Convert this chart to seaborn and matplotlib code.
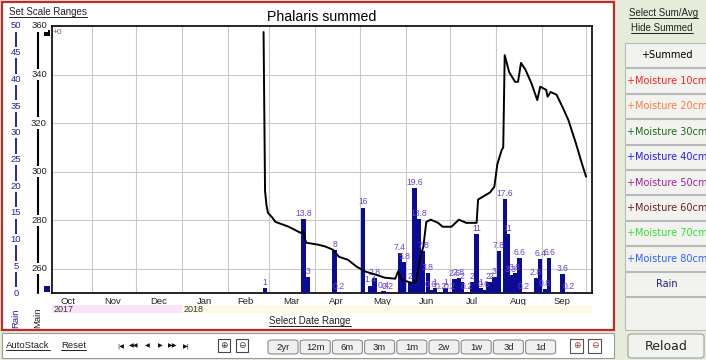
import matplotlib
matplotlib.use("Agg")
import matplotlib.pyplot as plt
import matplotlib.dates as mdates
import matplotlib.transforms as mtransforms
from matplotlib.patches import Rectangle, FancyBboxPatch
from matplotlib.lines import Line2D
import pandas as pd
import seaborn as sns

W, H = 706, 360

# ---- data ----
summed_dates = ["2018-02-25", "2018-02-26", "2018-02-27", "2018-02-28", "2018-03-03", "2018-03-05",
                "2018-03-14", "2018-03-22", "2018-03-24", "2018-03-25", "2018-03-26", "2018-04-03",
                "2018-04-08", "2018-04-13", "2018-04-17", "2018-04-23", "2018-04-29", "2018-05-05",
                "2018-05-12", "2018-05-18", "2018-05-25", "2018-05-27", "2018-05-29", "2018-06-05",
                "2018-06-08", "2018-06-11", "2018-06-13", "2018-06-15", "2018-06-18", "2018-06-23",
                "2018-06-26", "2018-07-02", "2018-07-07", "2018-07-12", "2018-07-19", "2018-07-20",
                "2018-07-28", "2018-07-31", "2018-08-02", "2018-08-05", "2018-08-06", "2018-08-07",
                "2018-08-10", "2018-08-14", "2018-08-16", "2018-08-18", "2018-08-21", "2018-08-25",
                "2018-08-29", "2018-08-31", "2018-09-04", "2018-09-05", "2018-09-07", "2018-09-11",
                "2018-09-15", "2018-09-19", "2018-09-24", "2018-09-28", "2018-10-01"]
summed_values = [357.5, 292, 286, 283, 281, 279.3,
                 277.3, 274.8, 275.5, 272, 270.7, 269.9,
                 269.1, 267.8, 264.9, 263.7, 260.8, 258.8,
                 257.5, 256.3, 255.9, 259, 255.5, 254.2,
                 254.7, 264.9, 269.1, 279.3, 280.2, 278.9,
                 277.3, 277.3, 280.2, 278.9, 278.9, 288.5,
                 291.4, 293.8, 303, 309, 310, 348,
                 341, 337, 337, 344.8, 342, 336.5,
                 329.5, 335, 333.7, 330.9, 332.8, 331.7,
                 326.7, 321.3, 311.9, 303.7, 297.9]

rain_dates = ["2018-02-26", "2018-03-24", "2018-03-27", "2018-04-14", "2018-04-17", "2018-05-03",
              "2018-05-08", "2018-05-11", "2018-05-17", "2018-05-20", "2018-05-28", "2018-05-31",
              "2018-06-04", "2018-06-07", "2018-06-10", "2018-06-13", "2018-06-16", "2018-06-18",
              "2018-06-21", "2018-06-25", "2018-06-28", "2018-07-01", "2018-07-04", "2018-07-07",
              "2018-07-09", "2018-07-12", "2018-07-16", "2018-07-19", "2018-07-22", "2018-07-24",
              "2018-07-27", "2018-07-29", "2018-07-31", "2018-08-03", "2018-08-07", "2018-08-09",
              "2018-08-11", "2018-08-14", "2018-08-17", "2018-08-20", "2018-08-28", "2018-08-31",
              "2018-09-03", "2018-09-06", "2018-09-15", "2018-09-19"]
rain_values = [1, 13.8, 3, 8, 0.2, 16,
               1.4, 2.8, 0.4, 0.2, 7.4, 5.8,
               2, 19.6, 13.8, 7.8, 3.8, 0.6,
               1, 0.2, 1, 0.2, 2.6, 2.8,
               2, 0.2, 2, 11, 1, 0.6,
               2, 2, 3, 7.8, 17.6, 11,
               3.3, 3.8, 6.6, 0.2, 2.8, 6.4,
               0.8, 6.6, 3.6, 0.2]

main_ticks = [260, 280, 300, 320, 340, 360]
rain_ticks = [0, 5, 10, 15, 20, 25, 30, 35, 40, 45, 50]
month_labels = ["Oct", "Nov", "Dec", "Jan", "Feb", "Mar", "Apr", "May", "Jun", "Jul", "Aug", "Sep"]
year_labels = ["2017", "2018"]
year_starts = ["2017-10-05", "2018-01-01"]
series_buttons = ["+Summed", "+Moisture 10cm", "+Moisture 20cm", "+Moisture 30cm", "+Moisture 40cm",
                  "+Moisture 50cm", "+Moisture 60cm", "+Moisture 70cm", "+Moisture 80cm", "Rain"]
series_colors = ["#000000", "#ff2020", "#ff7a40", "#1e6b1e", "#2020ff",
                 "#a020a0", "#6a2020", "#30e030", "#3060ff", "#20207a"]
range_buttons = ["2yr", "12m", "6m", "3m", "1m", "2w", "1w", "3d", "1d"]

# ---- figure ----
sns.set_theme(style="white")
plt.rcParams["font.family"] = ["Liberation Sans", "DejaVu Sans"]

fig = plt.figure(figsize=(W / 100, H / 100), dpi=100)
fig.patch.set_facecolor("#e5ecd9")


def fx(x):
    return x / W


def fy(y):
    return 1 - y / H


def box(x0, y0, x1, y1, **kw):
    r = Rectangle((fx(x0), fy(y1)), fx(x1 - x0), (y1 - y0) / H, transform=fig.transFigure, **kw)
    fig.add_artist(r)
    return r


underlined = []


def txt(x, y, s, underline=False, **kw):
    t = fig.text(fx(x), fy(y), s, **kw)
    if underline:
        underlined.append(t)
    return t


# chart panel
box(2, 2, 614, 330, facecolor="white", edgecolor="#bf2a2a", lw=1.6, zorder=0)

start, end = pd.Timestamp("2017-10-05"), pd.Timestamp("2018-10-05")
ax = fig.add_axes([fx(52), fy(293), fx(540), (293 - 26) / H])
ax.set_xlim(start, end)
ax.set_ylim(250, 360)
month_starts = pd.date_range("2017-11-01", periods=12, freq="MS")
ax.set_xticks(month_starts)
ax.set_xticklabels([])
mids = [d - pd.Timedelta(days=16) for d in month_starts]
ax.set_xticks(mids, minor=True)
ax.set_xticklabels(month_labels, minor=True, fontsize=6.8, color="#222222")
ax.set_yticks(main_ticks[:-1])
ax.tick_params(axis="both", which="both", length=0, labelleft=False, pad=3)
ax.grid(True, which="major", color="#c9c9c9", lw=0.8)
for s in ax.spines.values():
    s.set_color("black")
    s.set_linewidth(1.2)

# rain bars
ax2 = ax.twinx()
ax2.set_ylim(0, 50)
ax2.axis("off")
rd = pd.to_datetime(rain_dates)
ax2.bar(rd, rain_values, width=2.9, color="#0b0b93", lw=0, zorder=2)
for d, v in zip(rd, rain_values):
    ax2.annotate(f"{v:g}", (d, v), xytext=(0, 0.8), textcoords="offset points",
                 ha="center", va="bottom", fontsize=6.2, color="#6a44d8", zorder=3)

# summed line on top
ax3 = ax.twinx()
ax3.set_ylim(ax.get_ylim())
ax3.axis("off")
sns.lineplot(x=pd.to_datetime(summed_dates), y=summed_values, ax=ax3, color="black", lw=1.4, sort=False)

# left axes (rain, main)
tr_main = mtransforms.blended_transform_factory(fig.transFigure, ax.transData)
tr_rain = mtransforms.blended_transform_factory(fig.transFigure, ax2.transData)
fig.add_artist(Line2D([fx(16), fx(16)], [0, 50], transform=tr_rain, color="#0000a8", lw=1.2))
fig.add_artist(Line2D([fx(38), fx(38)], [250, 358], transform=tr_main, color="black", lw=1.5))
lbl_box = dict(boxstyle="square,pad=0.12", fc="white", ec="none")
for v in rain_ticks:
    fig.text(fx(16), v, str(v), transform=tr_rain, ha="center", va="center", fontsize=6.8,
             color="#2323a8", bbox=lbl_box)
for v in main_ticks:
    fig.text(fx(39), v, str(v), transform=tr_main, ha="center", va="center", fontsize=6.8,
             color="#222222", bbox=lbl_box)
txt(16, 318, "Rain", rotation=90, ha="center", va="center", fontsize=6.8, color="#2323a8")
txt(38, 318, "Main", rotation=90, ha="center", va="center", fontsize=6.8, color="#222222")
box(44, 30, 50, 36, facecolor="black", edgecolor="none")
box(44, 286, 50, 292, facecolor="#0b0b93", edgecolor="none")
txt(53, 33, "+0", ha="left", va="center", fontsize=6, color="#8a5a5a")

# year band
tr_year = mtransforms.blended_transform_factory(ax.transData, fig.transFigure)
bounds = mdates.date2num(pd.to_datetime(year_starts + ["2018-10-05"]))
for i, (lab, c) in enumerate(zip(year_labels, ["#fde0fa", "#fdfbe3"])):
    r = Rectangle((bounds[i], fy(313)), bounds[i + 1] - bounds[i], 8.5 / H, transform=tr_year,
                  facecolor=c, edgecolor="none")
    fig.add_artist(r)
    fig.text(bounds[i] + 1, fy(309), lab, transform=tr_year, ha="left", va="center",
             fontsize=6.5, color="#333333")

txt(322, 17, "Phalaris summed", ha="center", va="center", fontsize=10.2, color="black")
txt(9, 12, "Set Scale Ranges", underline=True, ha="left", va="center", fontsize=7, color="#222222")
txt(310, 321, "Select Date Range", underline=True, ha="center", va="center", fontsize=7, color="#222222")

# right side panel
txt(629, 13, "Select Sum/Avg", underline=True, ha="left", va="center", fontsize=7, color="#222222")
txt(631, 28, "Hide Summed", underline=True, ha="left", va="center", fontsize=7, color="#222222")
for i, (lab, c) in enumerate(zip(series_buttons, series_colors)):
    y0 = 43 + i * 25.4
    box(625, y0, 708, y0 + 24.4, facecolor="#f2f2ef", edgecolor="#b9b9b9", lw=0.8)
    fig.text(fx(667), fy(y0 + 12.5), lab, ha="center", va="center", fontsize=7.0, color=c,
             family="DejaVu Sans")
box(625, 297, 708, 330, facecolor="#f2f2ef", edgecolor="#b9b9b9", lw=0.8)

# bottom toolbar
box(2, 333, 614, 358, facecolor="white", edgecolor="#9a9a9a", lw=0.8)
txt(6, 346, "AutoStack", underline=True, ha="left", va="center", fontsize=6.8, color="#222222")
txt(61, 346, "Reset", underline=True, ha="left", va="center", fontsize=6.8, color="#222222")
for i, g in enumerate(["|◀", "◀◀", "◀", "▶", "▶▶", "▶|"]):
    txt(121 + i * 13, 346, g, ha="center", va="center", fontsize=4.5, color="#111111", family="DejaVu Sans")
for x0, g in [(218, "⊕"), (236, "⊖")]:
    box(x0, 339, x0 + 12, 352, facecolor="white", edgecolor="#444444", lw=0.8)
    txt(x0 + 6, 345.5, g, ha="center", va="center", fontsize=6.5, color="#333333", family="DejaVu Sans")
for i, lab in enumerate(range_buttons):
    cx = 283 + i * 32.2
    b = FancyBboxPatch((fx(cx - 15), fy(354)), fx(30), 14 / H, boxstyle="round,pad=0,rounding_size=0.006",
                       transform=fig.transFigure, facecolor="#f0f0ee", edgecolor="#8a8a8a", lw=0.8)
    fig.add_artist(b)
    txt(cx, 347, lab, ha="center", va="center", fontsize=6.8, color="#222222")
for x0, g in [(570, "⊕"), (588, "⊖")]:
    box(x0, 339, x0 + 13, 353, facecolor="white", edgecolor="#555555", lw=0.8)
    txt(x0 + 7, 346, g, ha="center", va="center", fontsize=6.5, color="#aa3333", family="DejaVu Sans")
b = FancyBboxPatch((fx(628), fy(358)), fx(76), 24 / H, boxstyle="round,pad=0,rounding_size=0.006",
                   transform=fig.transFigure, facecolor="#f2f2ef", edgecolor="#a0a0a0", lw=0.8)
fig.add_artist(b)
txt(666, 346, "Reload", ha="center", va="center", fontsize=9, color="#222222", family="DejaVu Sans")

# underline link texts
fig.canvas.draw()
rend = fig.canvas.get_renderer()
for t in underlined:
    bb = t.get_window_extent(rend)
    fig.add_artist(Line2D([bb.x0 / W, bb.x1 / W], [(bb.y0 + 0.5) / H] * 2, transform=fig.transFigure,
                          color=t.get_color(), lw=0.7))

fig.savefig("out.png", dpi=100, facecolor=fig.get_facecolor())
